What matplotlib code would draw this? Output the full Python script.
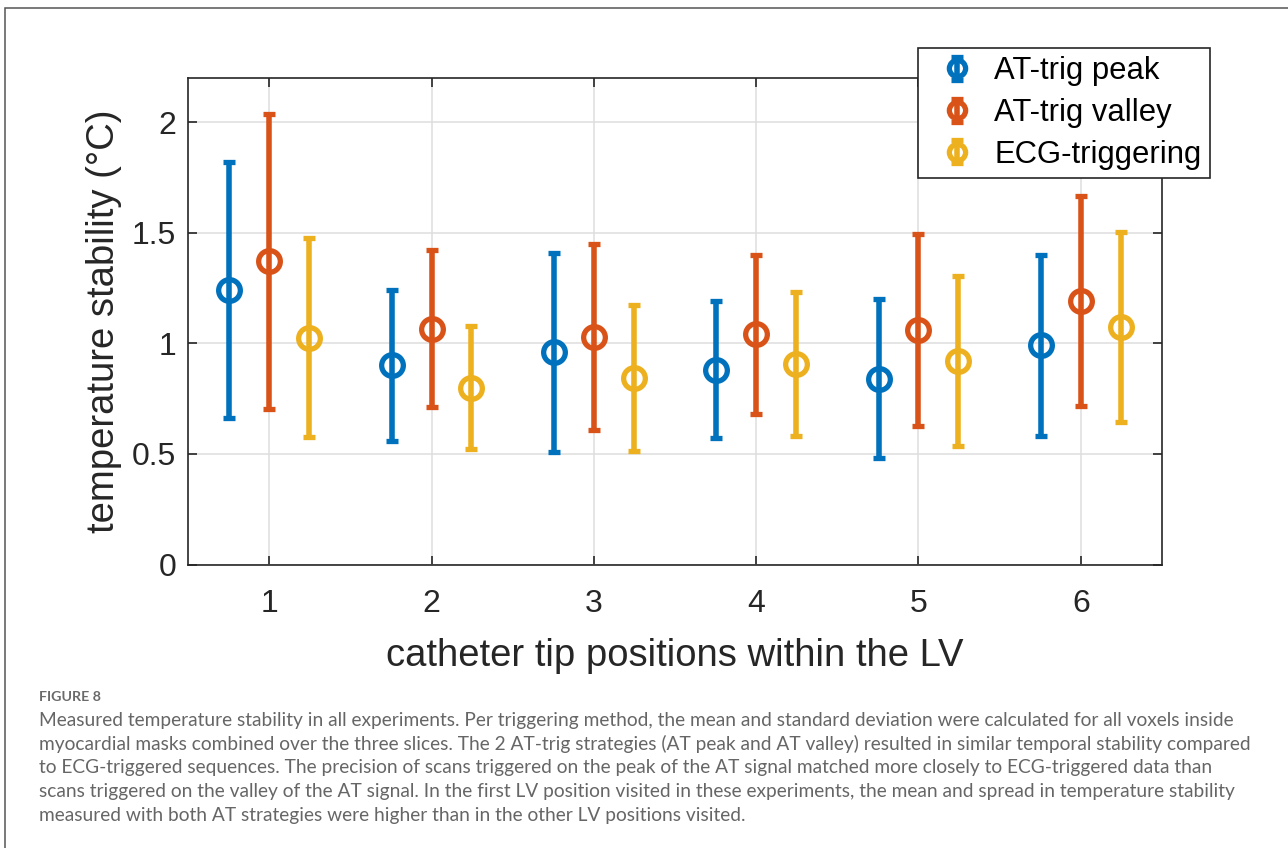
# -*- coding: utf-8 -*-
"""Temperature stability per catheter tip position and triggering method."""

import numpy as np
import matplotlib
matplotlib.use('Agg')
import matplotlib.pyplot as plt
from matplotlib.patches import Rectangle
from matplotlib.legend_handler import HandlerErrorbar

# Catheter tip positions (x-axis):
vecPos = [1, 2, 3, 4, 5, 6]

# AT-trig peak (mean and standard deviation):
vecPeakMean = [1.24, 0.90, 0.96, 0.88, 0.84, 0.99]
vecPeakStd = [0.58, 0.34, 0.45, 0.31, 0.36, 0.41]

# AT-trig valley:
vecValleyMean = [1.37, 1.065, 1.03, 1.04, 1.06, 1.19]
vecValleyStd = [0.665, 0.355, 0.42, 0.36, 0.435, 0.475]

# ECG-triggering:
vecEcgMean = [1.025, 0.80, 0.845, 0.905, 0.92, 1.075]
vecEcgStd = [0.45, 0.28, 0.33, 0.325, 0.385, 0.43]

lstSeries = ['AT-trig peak', 'AT-trig valley', 'ECG-triggering']

vecYtck = [0, 0.5, 1, 1.5, 2]
lstYtckLbl = ['0', '0.5', '1', '1.5', '2']

strXlbl = 'catheter tip positions within the LV'
strYlbl = 'temperature stability (\u00b0C)'

strFigNum = 'FIGURE 8'
lstCaption = [
    'Measured temperature stability in all experiments. Per triggering '
    'method, the mean and standard deviation were calculated for all '
    'voxels inside',
    'myocardial masks combined over the three slices. The 2 AT-trig '
    'strategies (AT peak and AT valley) resulted in similar temporal '
    'stability compared',
    'to ECG-triggered sequences. The precision of scans triggered on the '
    'peak of the AT signal matched more closely to ECG-triggered data than',
    'scans triggered on the valley of the AT signal. In the first LV '
    'position visited in these experiments, the mean and spread in '
    'temperature stability',
    'measured with both AT strategies were higher than in the other LV '
    'positions visited.',
]

# Figure size in pixels:
varW = 1288.0
varH = 848.0

# MATLAB default colours:
lstClr = ['#0072BD', '#D95319', '#EDB120']
strAxClr = '#262626'
strFont = 'Liberation Sans'


def px2fig(x, y):
    """Pixel position (from top left) to figure fraction."""
    return x / varW, 1.0 - y / varH


fig = plt.figure(figsize=(varW / 100.0, varH / 100.0), dpi=100)
fig.patch.set_facecolor('white')

# Outer frame (runs out of the picture on the right and bottom):
fig.patches.append(Rectangle((4.5 / varW, -0.1),
                             1.2,
                             1.1 - 8.3 / varH,
                             transform=fig.transFigure,
                             fill=False,
                             edgecolor='#555555',
                             linewidth=1.1))

# Axes:
x0, y0 = px2fig(188.0, 564.5)
x1, y1 = px2fig(1162.0, 77.75)
ax = fig.add_axes([x0, y0, x1 - x0, y1 - y0])

vecX = np.array(vecPos, dtype=float)
lstMean = [vecPeakMean, vecValleyMean, vecEcgMean]
lstStd = [vecPeakStd, vecValleyStd, vecEcgStd]
vecOff = [-0.245, 0.0, 0.245]

lstHndl = []
for idx in range(3):
    hndl = ax.errorbar(vecX + vecOff[idx],
                       lstMean[idx],
                       yerr=lstStd[idx],
                       fmt='o',
                       color=lstClr[idx],
                       ecolor=lstClr[idx],
                       elinewidth=4.0,
                       markersize=15.6,
                       markeredgewidth=3.8,
                       markerfacecolor='none',
                       capsize=4.6,
                       capthick=3.8,
                       label=lstSeries[idx],
                       zorder=3)
    lstHndl.append(hndl)

ax.set_xlim(0.5, 6.5)
ax.set_ylim(0.0, 2.2)
ax.set_xticks(vecPos)
ax.set_xticklabels([str(x) for x in vecPos])
ax.set_yticks(vecYtck)
ax.set_yticklabels(lstYtckLbl)

# Grid and box in MATLAB style:
ax.set_axisbelow(True)
ax.grid(True, color='#dedede', linewidth=1.1)
for strSpn in ['top', 'bottom', 'left', 'right']:
    ax.spines[strSpn].set_color(strAxClr)
    ax.spines[strSpn].set_linewidth(1.2)
ax.tick_params(axis='both',
               direction='in',
               top=True,
               right=True,
               length=6.5,
               width=1.2,
               color=strAxClr,
               labelcolor=strAxClr,
               labelsize=23)
ax.tick_params(axis='x', pad=18)
ax.tick_params(axis='y', pad=8.6)
for objLbl in ax.get_xticklabels() + ax.get_yticklabels():
    objLbl.set_fontname(strFont)

ax.set_xlabel(strXlbl,
              fontname=strFont,
              fontsize=27.5,
              color=strAxClr,
              labelpad=13)
ax.set_ylabel(strYlbl,
              fontname=strFont,
              fontsize=27.5,
              color=strAxClr,
              labelpad=7)

# Legend, partly overlapping the top of the axes:
lgd = ax.legend(handles=lstHndl,
                loc='upper left',
                bbox_to_anchor=px2fig(918.0, 47.5),
                bbox_transform=fig.transFigure,
                borderaxespad=0.0,
                borderpad=0.28,
                handlelength=1.98,
                handletextpad=0.2,
                labelspacing=0.38,
                markerscale=0.75,
                fancybox=False,
                framealpha=1.0,
                edgecolor=strAxClr,
                prop={'family': strFont, 'size': 22.3},
                handler_map={type(lstHndl[0]): HandlerErrorbar(xerr_size=0.37)})
lgd.get_frame().set_linewidth(1.2)
lgd.set_zorder(10)

# Caption below the chart:
strCapFont = 'Lato'
xt, yt = px2fig(39.0, 696.7)
fig.text(xt, yt, strFigNum,
         fontname=strCapFont,
         fontweight='bold',
         fontsize=10.3,
         color='#6a6a6a',
         ha='left',
         va='center')

vecCapY = [720.7, 744.2, 767.7, 791.5, 815.3]
lstCapTxt = []
for idx, strLine in enumerate(lstCaption):
    xt, yt = px2fig(39.0, vecCapY[idx])
    lstCapTxt.append(fig.text(xt, yt, strLine,
                              fontname=strCapFont,
                              fontsize=13.4,
                              color='#666666',
                              ha='left',
                              va='center'))

# Scale the caption font so the second line spans the same width:
objRnd = fig.canvas.get_renderer()
varWdth = lstCapTxt[1].get_window_extent(renderer=objRnd).width
varSize = 13.4 * (1255.0 - 39.0) / varWdth
for objTxt in lstCapTxt:
    objTxt.set_fontsize(varSize)

fig.savefig('out.png', dpi=100, facecolor='white')
